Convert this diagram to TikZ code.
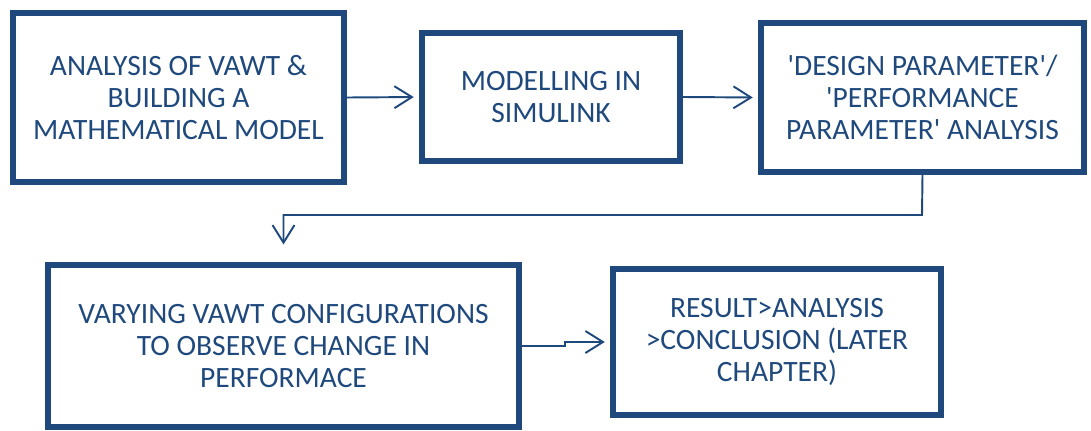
\documentclass[tikz,border=0pt]{standalone}
\usepackage{fontspec}
\setmainfont{Carlito}
\usetikzlibrary{arrows.meta}
\definecolor{flowblue}{RGB}{31,73,125}

\begin{document}
\begin{tikzpicture}[x=0.02cm, y=-0.02cm,
  every node/.style={font=\fontsize{16.8}{18.2}\selectfont, text=flowblue, align=center},
  stagebox/.style={draw=flowblue, line width=3.4pt, inner sep=0pt},
  flowline/.style={draw=flowblue, line width=1.1pt, -{Straight Barb[length=10pt, width=12.5pt, line width=1.1pt]}, shorten >=3pt}]
  % Fix the page size
  \useasboundingbox (0,0) rectangle (1091,430);

  % Top row
  \node[stagebox, minimum width=6.62cm, minimum height=3.38cm] (analysis) at (178.5,97.5)
    {ANALYSIS OF VAWT \&\\BUILDING A\\MATHEMATICAL MODEL};
  \node[stagebox, minimum width=5.16cm, minimum height=2.56cm] (simulink) at (551,97)
    {MODELLING IN\\SIMULINK};
  \node[stagebox, minimum width=6.46cm, minimum height=2.98cm] (params) at (922.5,97.5)
    {\textquotesingle DESIGN PARAMETER\textquotesingle/\\\textquotesingle PERFORMANCE\\PARAMETER\textquotesingle{} ANALYSIS};

  % Bottom row
  \node[stagebox, minimum width=9.42cm, minimum height=3.24cm] (varying) at (283.5,346)
    {VARYING VAWT CONFIGURATIONS\\TO OBSERVE CHANGE IN\\PERFORMACE};
  \node[stagebox, minimum width=6.56cm, minimum height=2.92cm] (result) at (777,342)
    {RESULT>ANALYSIS\\>CONCLUSION (LATER\\CHAPTER)};

  % Turning points
  \coordinate (bend) at (922,215);
  \coordinate (jog) at (565,346);

  % Connectors
  \draw[flowline] (analysis.east) -- (simulink.west);
  \draw[flowline] (simulink.east) -- (params.west);
  \draw[flowline, shorten >=10pt] (params.south) -- (bend) -| (varying.north);
  \draw[flowline] (varying.east) -- (jog) |- (result.west);

\end{tikzpicture}
\end{document}
